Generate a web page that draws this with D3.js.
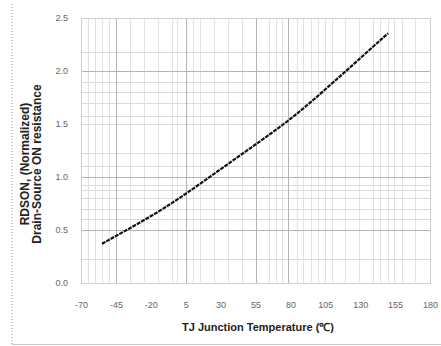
<!DOCTYPE html>
<html>
<head>
<meta charset="utf-8">
<script src="https://cdn.jsdelivr.net/npm/d3@7"></script>
<style>
  body { margin: 0; background: #fff; }
  svg { display: block; }
</style>
</head>
<body>
<div id="chart"></div>
<script>
// junction temperature (C) and normalised RDS(on)
const temps = [-55, -40, -25, -10, 5, 20, 35, 50, 65, 80, 95, 110, 125, 140, 150];
const rdson = [0.37, 0.48, 0.59, 0.71, 0.84, 0.98, 1.12, 1.26, 1.40, 1.545, 1.71, 1.885, 2.06, 2.24, 2.355];

const xTicks = [-70, -45, -20, 5, 30, 55, 80, 105, 130, 155, 180];
const yTicks = [0, 0.5, 1.0, 1.5, 2.0, 2.5];

// grid lines as they sit in the (resampled) original
const xGridMajor = [-70, -45, 5, 55, 78, 180];
const xGridMinor = [-65, -60, -55, -50, -35, -25, -15, -5, -1, 10, 15, 25, 35, 45, 65, 70, 74,
  85, 89, 95, 100, 105, 110, 119, 129, 139, 144, 150, 154, 160, 169];
const yGridMajor = [0.5, 1.0, 2.0];
const yGridMinor = [0.23, 0.6, 0.7, 0.8, 0.88, 0.92, 1.1, 1.23, 1.5, 1.58, 1.7, 1.8, 1.9, 2.18];

const xTitle = 'TJ Junction Temperature (\u2103)';
const yTitle = ['RDSON, (Normalized)', 'Drain-Source ON resistance'];

const W = 441, H = 346;
const margin = {top: 18, right: 11, bottom: 63, left: 81};

const svg = d3.select('#chart').append('svg')
  .attr('width', W)
  .attr('height', H);

const x = d3.scaleLinear().domain([-70, 180]).range([margin.left, W - margin.right]);
const y = d3.scaleLinear().domain([0, 2.5]).range([H - margin.bottom, margin.top]);

// outer frame bits
svg.append('line')
  .attr('x1', 12).attr('x2', 12).attr('y1', 4).attr('y2', 345)
  .attr('stroke', '#999').attr('stroke-dasharray', '1,2');
svg.append('line')
  .attr('x1', 12).attr('x2', W).attr('y1', 344.5).attr('y2', 344.5)
  .attr('stroke', '#ccc');

const grid = svg.append('g');

// minor grid
grid.selectAll('.vx-minor').data(xGridMinor).enter().append('line')
  .attr('x1', d => Math.round(x(d)) + 0.5).attr('x2', d => Math.round(x(d)) + 0.5)
  .attr('y1', y(2.5)).attr('y2', y(0))
  .attr('stroke', '#e2e2e2');
grid.selectAll('.hy-minor').data(yGridMinor).enter().append('line')
  .attr('x1', x(-70)).attr('x2', x(180))
  .attr('y1', d => Math.round(y(d)) + 0.5).attr('y2', d => Math.round(y(d)) + 0.5)
  .attr('stroke', '#dcdcdc');

// major grid
grid.selectAll('.vx-major').data(xGridMajor).enter().append('line')
  .attr('x1', d => Math.round(x(d)) + 0.5).attr('x2', d => Math.round(x(d)) + 0.5)
  .attr('y1', y(2.5)).attr('y2', y(0))
  .attr('stroke', '#b4b4b4');
grid.selectAll('.hy-major').data(yGridMajor).enter().append('line')
  .attr('x1', x(-70)).attr('x2', x(180))
  .attr('y1', d => Math.round(y(d)) + 0.5).attr('y2', d => Math.round(y(d)) + 0.5)
  .attr('stroke', '#b4b4b4');

// plot border
grid.append('rect')
  .attr('x', x(-70) + 0.5).attr('y', y(2.5) + 0.5)
  .attr('width', x(180) - x(-70)).attr('height', y(0) - y(2.5))
  .attr('fill', 'none').attr('stroke', '#d0d0d0');

// axes (labels only)
const xAxis = d3.axisBottom(x).tickValues(xTicks).tickSize(0).tickPadding(0).tickFormat(d => String(d));
const yAxis = d3.axisLeft(y).tickValues(yTicks).tickSize(0).tickPadding(0).tickFormat(d3.format('.1f'));

const xAxisgroup = svg.append('g')
  .attr('transform', `translate(0,${H - margin.bottom + 19})`)
  .call(xAxis);
const yAxisgroup = svg.append('g')
  .attr('transform', `translate(${margin.left - 13},0)`)
  .call(yAxis);

[xAxisgroup, yAxisgroup].forEach(g => {
  g.select('.domain').remove();
  g.selectAll('text')
    .attr('fill', '#666')
    .style('font-family', '"Liberation Sans", Arial, sans-serif')
    .style('font-size', '9px');
});

// curve
const pts = temps.map((t, i) => ({t: t, v: rdson[i]}));
const line = d3.line()
  .x(d => x(d.t))
  .y(d => y(d.v))
  .curve(d3.curveBasis);

svg.append('path')
  .datum(pts)
  .attr('fill', 'none')
  .attr('stroke', '#111')
  .attr('stroke-width', 2.2)
  .attr('stroke-dasharray', '4,1')
  .attr('d', line);

// titles
svg.append('text')
  .attr('x', 258).attr('y', 331)
  .attr('text-anchor', 'middle')
  .attr('fill', '#222')
  .style('font-family', '"Liberation Sans Narrow", "Liberation Sans", Arial, sans-serif')
  .style('font-size', '11px')
  .style('font-weight', 'bold')
  .text(xTitle);

const yt = svg.append('text')
  .attr('transform', 'translate(0,164) rotate(-90)')
  .attr('text-anchor', 'middle')
  .attr('fill', '#222')
  .style('font-family', '"Liberation Sans", Arial, sans-serif')
  .style('font-size', '12px')
  .style('font-weight', 'bold');
yt.selectAll('tspan').data(yTitle).enter().append('tspan')
  .attr('x', 0)
  .attr('y', (d, i) => 29 + i * 12)
  .text(d => d);
</script>
</body>
</html>
